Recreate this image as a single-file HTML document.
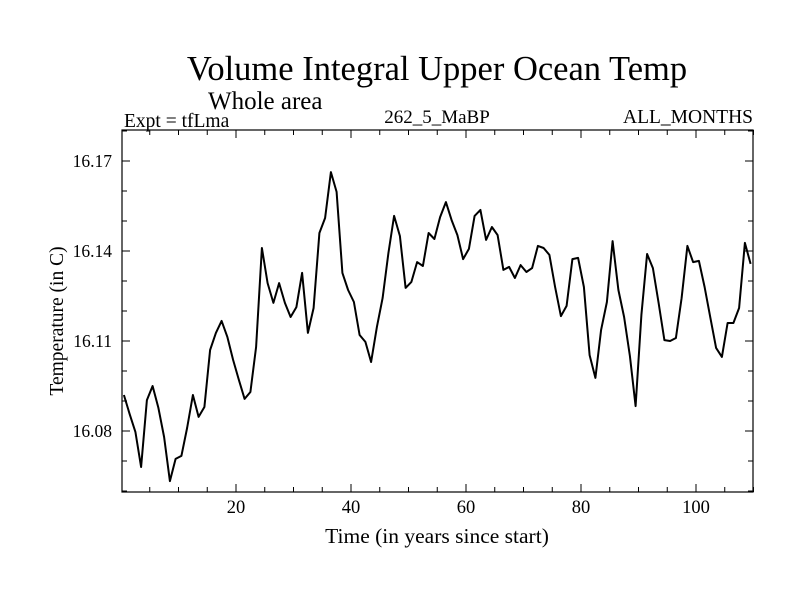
<!DOCTYPE html>
<html><head><meta charset="utf-8"><style>
body{margin:0;background:#fff}
svg{display:block;font-family:"Liberation Serif",serif}
</style></head><body>
<svg id="c" width="800" height="600">
<text x="437" y="80" font-size="34.5" text-anchor="middle">Volume Integral Upper Ocean Temp</text>
<text x="208" y="109" font-size="25">Whole area</text>
<text x="124" y="127" font-size="19.5">Expt = tfLma</text>
<text x="437" y="123" font-size="19" text-anchor="middle">262_5_MaBP</text>
<text x="753" y="123" font-size="19.5" text-anchor="end">ALL_MONTHS</text>
<text x="437" y="543" font-size="21.5" text-anchor="middle">Time (in years since start)</text>
<text transform="translate(63,321) rotate(-90)" font-size="19.5" text-anchor="middle">Temperature (in C)</text>
<g id="ax"></g>
</svg>
<script>
const xTicks=[20,40,60,80,100];
const yTicks=[16.08,16.11,16.14,16.17];
const yTickLabels=["16.08","16.11","16.14","16.17"];
const temps=[16.0920,16.0857,16.0797,16.0680,16.0903,16.0950,16.0877,16.0780,16.0633,16.0707,
16.0717,16.0810,16.0920,16.0847,16.0880,16.1070,16.1127,16.1167,16.1113,16.1037,
16.0970,16.0907,16.0930,16.1080,16.1410,16.1293,16.1227,16.1293,16.1227,16.1180,
16.1213,16.1327,16.1127,16.1210,16.1460,16.1510,16.1663,16.1597,16.1327,16.1270,
16.1230,16.1120,16.1097,16.1030,16.1147,16.1243,16.1393,16.1517,16.1450,16.1277,
16.1297,16.1363,16.1350,16.1460,16.1440,16.1513,16.1563,16.1503,16.1453,16.1373,
16.1407,16.1517,16.1537,16.1437,16.1480,16.1453,16.1337,16.1347,16.1310,16.1353,
16.1330,16.1343,16.1417,16.1410,16.1387,16.1280,16.1183,16.1217,16.1373,16.1377,
16.1280,16.1053,16.0977,16.1137,16.1230,16.1433,16.1270,16.1180,16.1050,16.0883,
16.1187,16.1390,16.1343,16.1227,16.1103,16.1100,16.1110,16.1243,16.1417,16.1363,
16.1367,16.1280,16.1177,16.1077,16.1047,16.1160,16.1160,16.1210,16.1427,16.1357];
const years=temps.map((_,i)=>i+0.5);
const L=122,R=753,T=130,B=492;
const sx=x=>121+x*5.75;
const sy=v=>161+(16.17-v)*3000;
const NS="http://www.w3.org/2000/svg";
const g=document.getElementById('ax');
function mk(tag,attrs){const e=document.createElementNS(NS,tag);for(const k in attrs)e.setAttribute(k,attrs[k]);g.appendChild(e);return e;}
const frame=mk('rect',{x:L,y:T,width:R-L,height:B-T,fill:'none',stroke:'#000','stroke-width':1.2});


for(let x=5;x<=110;x+=5){
  const major=x%20===0,len=major?8:5,px=sx(x);
  const t1=mk('line',{x1:px,x2:px,y1:B,y2:B-len,stroke:'#000'});
  
  
  const t2=mk('line',{x1:px,x2:px,y1:T,y2:T+len,stroke:'#000'});
  
  
}
for(let k=0;k<=12;k++){
  const v=16.06+k*0.01,py=sy(v);
  if(py<T||py>B)continue;
  const major=Math.abs(((v-16.08)/0.03)-Math.round((v-16.08)/0.03))<1e-6,len=major?8:5;
  const t1=mk('line',{x1:L,x2:L+len,y1:py,y2:py,stroke:'#000'});
  
  
  const t2=mk('line',{x1:R,x2:R-len,y1:py,y2:py,stroke:'#000'});
  
  
}
xTicks.forEach(x=>{
  const t=mk('text',{x:sx(x),y:B+21,'font-size':18.5,'text-anchor':'middle'});
  t.textContent=x;
  
  
});
yTicks.forEach((v,i)=>{
  const t=mk('text',{x:L-10,y:sy(v)+6,'font-size':17.5,'text-anchor':'end'});
  t.textContent=yTickLabels[i];
  
  
});
const pts=temps.map((v,i)=>sx(years[i]).toFixed(1)+','+sy(v).toFixed(1)).join(' ');
const line=mk('polyline',{points:pts,fill:'none',stroke:'#000','stroke-width':2,'stroke-linejoin':'round'});


</script>
</body></html>
